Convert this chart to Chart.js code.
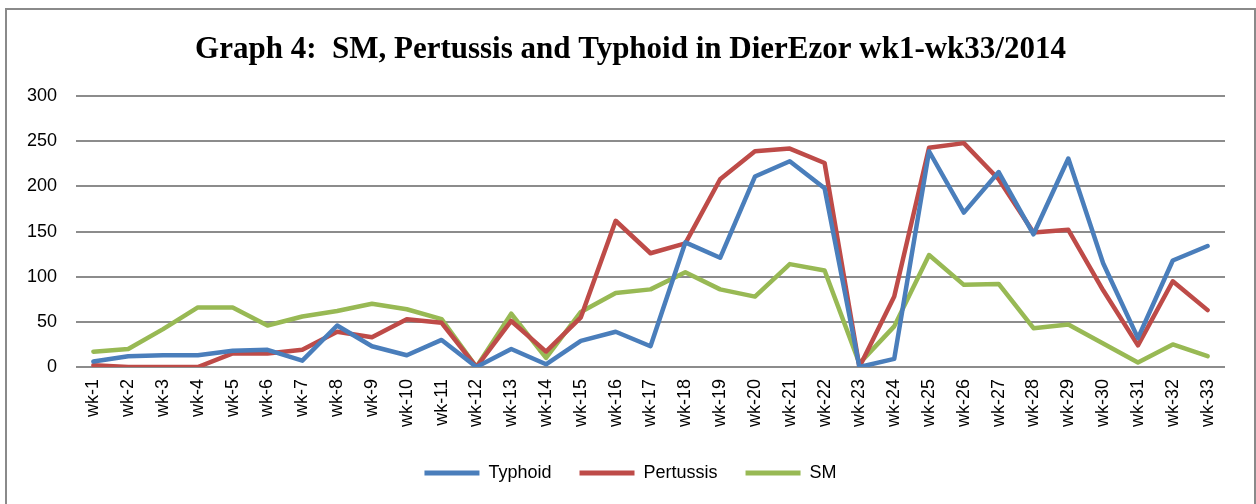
<!DOCTYPE html>
<html>
<head>
<meta charset="utf-8">
<script src="https://cdn.jsdelivr.net/npm/chart.js@4"></script>
<style>
  html, body { margin: 0; padding: 0; background: #fff; }
  #wrap { position: relative; width: 1256px; height: 504px; overflow: hidden; }
  #frame { position: absolute; left: 5px; top: 8px; width: 1247px; height: 510px; border: 2px solid #8a8a8a; pointer-events: none; }
</style>
</head>
<body>
<div id="wrap">
  <canvas id="chart" width="1256" height="504"></canvas>
  <div id="frame"></div>
</div>
<script>
const weeks = Array.from({ length: 33 }, (_, i) => `wk-${i + 1}`);

const typhoid = [6, 12, 13, 13, 18, 19, 7, 46, 23, 13, 30, 0, 20, 3, 29, 39, 23, 138, 121, 211,
  228, 198, 0, 9, 239, 171, 216, 147, 231, 115, 32, 118, 134];
const pertussis = [2, 0, 0, 0, 15, 15, 19, 39, 33, 53, 49, 0, 51, 17, 55, 162, 126, 137, 208, 239,
  242, 226, 0, 78, 243, 248, 208, 149, 152, 85, 24, 95, 63];
const sm = [17, 20, 42, 66, 66, 46, 56, 62, 70, 64, 53, 0, 59, 10, 61, 82, 86, 105, 86, 78,
  114, 107, 4, 45, 124, 91, 92, 43, 47, 26, 5, 25, 12];

const yTicks = [0, 50, 100, 150, 200, 250, 300];

const series = [
  { label: "Typhoid", data: typhoid, color: "#4a7ebb" },
  { label: "Pertussis", data: pertussis, color: "#be4b48" },
  { label: "SM", data: sm, color: "#98b954" }
];

const tickFont = { family: "'Liberation Sans', Arial, sans-serif", size: 18 };

// title and legend are centred under the whole frame, not just the plot
const centreBoxes = {
  id: "centreBoxes",
  afterLayout(chart) {
    [chart.legend, chart.titleBlock].forEach(b => {
      b.left += 18;
      b.right += 18;
    });
  }
};

new Chart(document.getElementById("chart"), {
  type: "line",
  data: {
    labels: weeks,
    datasets: series.map(s => ({
      label: s.label,
      data: s.data,
      borderColor: s.color,
      backgroundColor: s.color,
      borderWidth: 4.5,
      pointRadius: 0,
      tension: 0,
      borderJoinStyle: "round",
      borderCapStyle: "round"
    }))
  },
  options: {
    responsive: false,
    animation: false,
    layout: { padding: { left: 0, right: 31, top: 0, bottom: 12 } },
    plugins: {
      title: {
        display: true,
        text: "Graph 4:  SM, Pertussis and Typhoid in DierEzor wk1-wk33/2014",
        color: "#000",
        font: { family: "'Liberation Serif', 'Times New Roman', serif", size: 31, weight: "bold" },
        padding: { top: 31, bottom: 28 }
      },
      legend: {
        position: "bottom",
        labels: {
          color: "#000",
          font: tickFont,
          boxWidth: 55,
          boxHeight: 5,
          padding: 28,
          generateLabels: chart => chart.data.datasets.map((d, i) => ({
            text: d.label,
            fillStyle: d.borderColor,
            strokeStyle: d.borderColor,
            lineWidth: 0,
            datasetIndex: i
          }))
        }
      },
      tooltip: { enabled: false }
    },
    scales: {
      x: {
        offset: true,
        grid: { display: false, drawTicks: false, offset: true },
        border: { display: false },
        afterFit: scale => { scale.height = 69; },
        ticks: {
          color: "#000",
          font: tickFont,
          minRotation: 90,
          maxRotation: 90,
          autoSkip: false,
          padding: 12
        }
      },
      y: {
        min: 0,
        max: 300,
        afterFit: scale => { scale.width = 76; },
        afterBuildTicks: scale => { scale.ticks = yTicks.map(v => ({ value: v })); },
        grid: { color: "#8c8c8c", lineWidth: 2, drawTicks: false },
        border: { display: false },
        ticks: { color: "#000", font: tickFont, padding: 19 }
      }
    }
  },
  plugins: [centreBoxes]
});
</script>
</body>
</html>
